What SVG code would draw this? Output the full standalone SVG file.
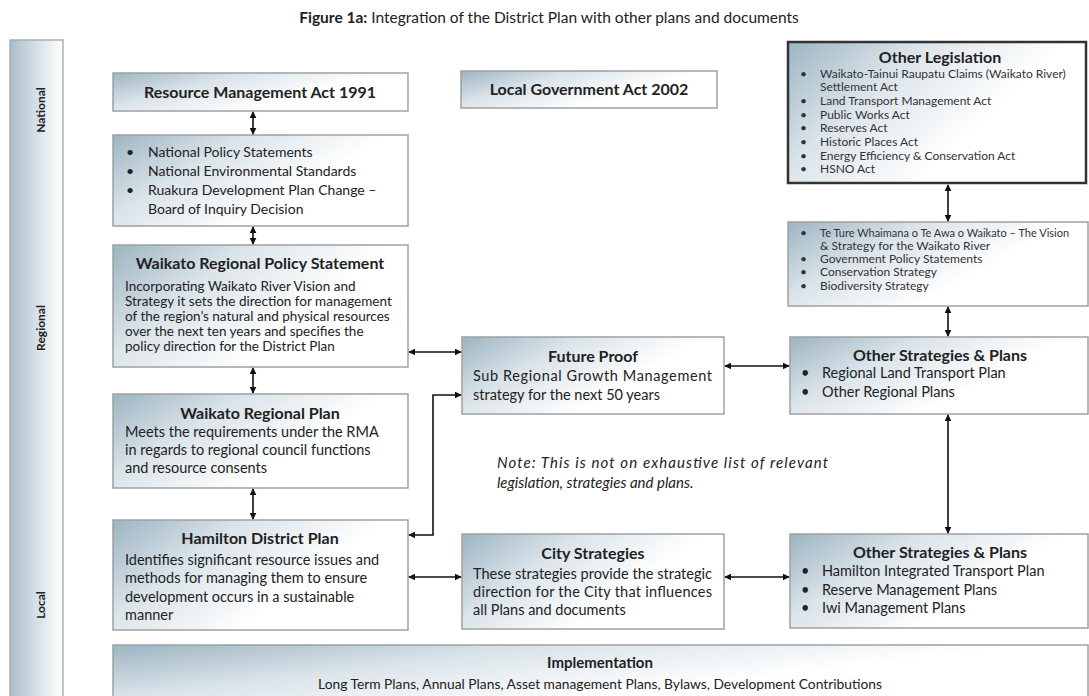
<svg xmlns="http://www.w3.org/2000/svg" width="1089" height="696" viewBox="0 0 1089 696">
<defs>
<linearGradient id="g" x1="0" y1="0" x2="1" y2="0.5">
<stop offset="0" stop-color="#9db4c2"/>
<stop offset="0.35" stop-color="#d9e3e9"/>
<stop offset="0.75" stop-color="#ffffff"/>
</linearGradient>
<linearGradient id="gbar" x1="0" y1="0" x2="1" y2="0">
<stop offset="0" stop-color="#a8bccb"/>
<stop offset="0.5" stop-color="#d6e0e7"/>
<stop offset="1" stop-color="#ffffff"/>
</linearGradient>
<marker id="ah" viewBox="0 0 10 10" refX="9" refY="5" markerWidth="7" markerHeight="7" orient="auto-start-reverse" markerUnits="userSpaceOnUse">
<path d="M0,0 L10,5 L0,10 z" fill="#111"/>
</marker>
</defs>
<style>
text{font-family:Lato,"Liberation Sans",sans-serif;fill:#222;}
.box{fill:url(#g);stroke:#a0a0a0;stroke-width:1.5;}
.dark{fill:url(#g);stroke:#333;stroke-width:2.5;}
.t{font-size:16px;font-weight:bold;text-anchor:middle;}
.b{font-size:14.5px;}
.m{font-size:13.5px;}
.n{font-size:14px;}
.s{font-size:12px;fill:#333;}
.lbl{font-size:12px;font-weight:bold;text-anchor:middle;}
.c{stroke:#111;stroke-width:1.6;fill:none;marker-start:url(#ah);marker-end:url(#ah);}
.note{font-size:15px;font-style:italic;}
</style>
<rect width="1089" height="696" fill="#ffffff"/>
<text x="549" y="23" style="font-size:15.5px;text-anchor:middle"><tspan font-weight="bold">Figure 1a:</tspan> Integration of the District Plan with other plans and documents</text>

<g id="levels">
<rect x="10" y="40" width="53" height="660" fill="url(#gbar)" stroke="#b0b0b0" stroke-width="1.5"/>
<text class="lbl" transform="translate(45,110) rotate(-90)">National</text>
<text class="lbl" transform="translate(45,328) rotate(-90)">Regional</text>
<text class="lbl" transform="translate(45,605) rotate(-90)">Local</text>
</g>

<g id="rma">
<rect class="box" x="113" y="73" width="295" height="38"/>
<text class="t" x="260" y="98">Resource Management Act 1991</text>
</g>

<g id="nps">
<rect class="box" x="113" y="135" width="295" height="91"/>
<text class="n" x="126" y="157">•</text><text class="n" x="148" y="157">National Policy Statements</text>
<text class="n" x="126" y="176">•</text><text class="n" x="148" y="176">National Environmental Standards</text>
<text class="n" x="126" y="195">•</text><text class="n" x="148" y="195">Ruakura Development Plan Change –</text>
<text class="n" x="148" y="214">Board of Inquiry Decision</text>
</g>

<g id="wrps">
<rect class="box" x="113" y="245" width="295" height="122"/>
<text class="t" x="260" y="269">Waikato Regional Policy Statement</text>
<text class="m" x="125" y="291">Incorporating Waikato River Vision and</text>
<text class="m" x="125" y="306">Strategy it sets the direction for management</text>
<text class="m" x="125" y="321">of the region’s natural and physical resources</text>
<text class="m" x="125" y="336">over the next ten years and specifies the</text>
<text class="m" x="125" y="351">policy direction for the District Plan</text>
</g>

<g id="wrp">
<rect class="box" x="113" y="394" width="295" height="94"/>
<text class="t" x="260" y="419">Waikato Regional Plan</text>
<text class="b" x="125" y="437">Meets the requirements under the RMA</text>
<text class="b" x="125" y="455">in regards to regional council functions</text>
<text class="b" x="125" y="473">and resource consents</text>
</g>

<g id="hdp">
<rect class="box" x="113" y="520" width="295" height="110"/>
<text class="t" x="260" y="544">Hamilton District Plan</text>
<text class="b" x="125" y="565">Identifies significant resource issues and</text>
<text class="b" x="125" y="583">methods for managing them to ensure</text>
<text class="b" x="125" y="602">development occurs in a sustainable</text>
<text class="b" x="125" y="620">manner</text>
</g>

<g id="lga">
<rect class="box" x="461" y="71" width="256" height="37"/>
<text class="t" x="589" y="95">Local Government Act 2002</text>
</g>

<g id="futureproof">
<rect class="box" x="462" y="337" width="262" height="77"/>
<text class="t" x="593" y="362">Future Proof</text>
<text class="b" x="473" y="381" textLength="239" lengthAdjust="spacing">Sub Regional Growth Management</text>
<text class="b" x="473" y="400">strategy for the next 50 years</text>
</g>

<g id="note">
<text class="note" x="497" y="468" textLength="331" lengthAdjust="spacing">Note: This is not on exhaustive list of relevant</text>
<text class="note" x="497" y="488">legislation, strategies and plans.</text>
</g>

<g id="city">
<rect class="box" x="462" y="534" width="262" height="95"/>
<text class="t" x="593" y="559">City Strategies</text>
<text class="b" x="473" y="579" textLength="239" lengthAdjust="spacingAndGlyphs">These strategies provide the strategic</text>
<text class="b" x="473" y="597" textLength="239" lengthAdjust="spacing">direction for the City that influences</text>
<text class="b" x="473" y="615">all Plans and documents</text>
</g>

<g id="otherleg">
<rect class="dark" x="788" y="42" width="298" height="141"/>
<text class="t" x="940" y="63">Other Legislation</text>
<text class="s" x="800" y="78">•</text><text class="s" x="820" y="78">Waikato-Tainui Raupatu Claims (Waikato River)</text>
<text class="s" x="820" y="91">Settlement Act</text>
<text class="s" x="800" y="105">•</text><text class="s" x="820" y="105">Land Transport Management Act</text>
<text class="s" x="800" y="119">•</text><text class="s" x="820" y="119">Public Works Act</text>
<text class="s" x="800" y="132">•</text><text class="s" x="820" y="132">Reserves Act</text>
<text class="s" x="800" y="146">•</text><text class="s" x="820" y="146">Historic Places Act</text>
<text class="s" x="800" y="160">•</text><text class="s" x="820" y="160">Energy Efficiency &amp; Conservation Act</text>
<text class="s" x="800" y="173">•</text><text class="s" x="820" y="173">HSNO Act</text>
</g>

<g id="teture">
<rect class="box" x="788" y="222" width="300" height="84"/>
<text class="s" x="800" y="237">•</text><text class="s" x="820" y="237" style="font-size:11px">Te Ture Whaimana o Te Awa o Waikato – The Vision</text>
<text class="s" x="820" y="250">&amp; Strategy for the Waikato River</text>
<text class="s" x="800" y="263">•</text><text class="s" x="820" y="263">Government Policy Statements</text>
<text class="s" x="800" y="276">•</text><text class="s" x="820" y="276">Conservation Strategy</text>
<text class="s" x="800" y="290">•</text><text class="s" x="820" y="290">Biodiversity Strategy</text>
</g>

<g id="osp1">
<rect class="box" x="790" y="337" width="298" height="77"/>
<text class="t" x="940" y="361">Other Strategies &amp; Plans</text>
<text class="b" x="801" y="378">•</text><text class="b" x="822" y="378">Regional Land Transport Plan</text>
<text class="b" x="801" y="397">•</text><text class="b" x="822" y="397">Other Regional Plans</text>
</g>

<g id="osp2">
<rect class="box" x="790" y="534" width="298" height="94"/>
<text class="t" x="940" y="558">Other Strategies &amp; Plans</text>
<text class="b" x="801" y="576">•</text><text class="b" x="822" y="576">Hamilton Integrated Transport Plan</text>
<text class="b" x="801" y="595">•</text><text class="b" x="822" y="595">Reserve Management Plans</text>
<text class="b" x="801" y="613">•</text><text class="b" x="822" y="613">Iwi Management Plans</text>
</g>

<g id="implementation">
<rect class="box" x="113" y="645" width="975" height="60"/>
<text class="t" x="600" y="668" style="font-size:15px">Implementation</text>
<text x="600" y="689" style="font-size:13.8px;text-anchor:middle">Long Term Plans, Annual Plans, Asset management Plans, Bylaws, Development Contributions</text>
</g>

<g id="connectors">
<line class="c" x1="253" y1="112" x2="253" y2="134"/>
<line class="c" x1="253" y1="227" x2="253" y2="244"/>
<line class="c" x1="253" y1="368" x2="253" y2="393"/>
<line class="c" x1="253" y1="489" x2="253" y2="519"/>
<line class="c" x1="948" y1="185" x2="948" y2="221"/>
<line class="c" x1="948" y1="307" x2="948" y2="336"/>
<line class="c" x1="948" y1="415" x2="948" y2="533"/>
<line class="c" x1="409" y1="352" x2="461" y2="352"/>
<polyline class="c" points="409,535 433,535 433,395 461,395"/>
<line class="c" x1="725" y1="366" x2="789" y2="366"/>
<line class="c" x1="409" y1="577" x2="461" y2="577"/>
<line class="c" x1="725" y1="577" x2="789" y2="577"/>
</g>
</svg>
